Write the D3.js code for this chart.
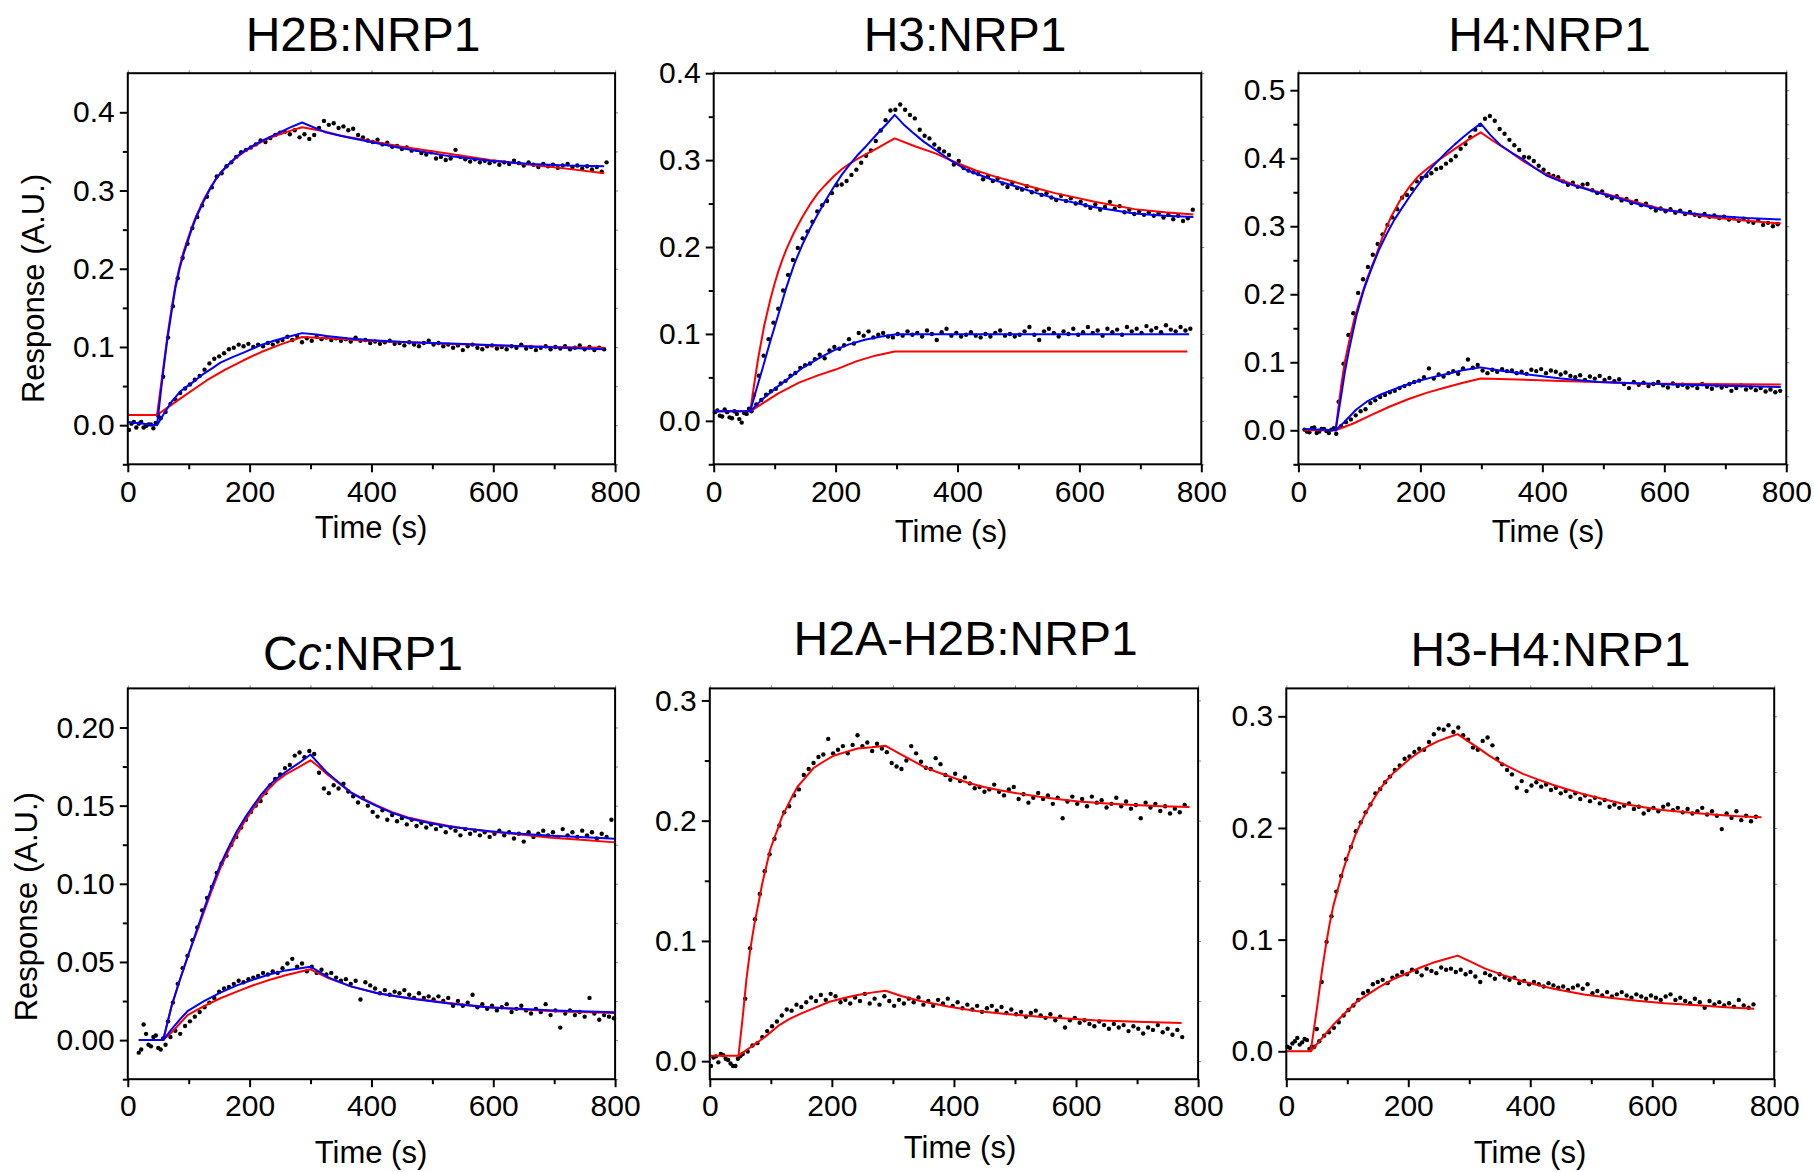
<!DOCTYPE html>
<html>
<head>
<meta charset="utf-8">
<script src="https://cdn.jsdelivr.net/npm/d3@7"></script>
<style>
  body { margin: 0; background: #fff; }
  svg { display: block; }
  text { font-family: Arial, "Liberation Sans", sans-serif; fill: #000; }
</style>
</head>
<body>
<svg width="1814" height="1172"></svg>
<script>
// Sensorgrams, one reading every 8 s. Each series: first time + responses.
const step = 8

// H2B:NRP1
const h2bHiStart = 2
const h2bHi = [-0.006,0.004,0.002,-0.003,0.001,-0.004,0.012,0.062,0.112,0.152,
  0.188,0.214,0.232,0.252,0.266,0.281,0.292,0.304,0.318,0.322,
  0.331,0.336,0.343,0.349,0.352,0.355,0.359,0.364,0.362,0.367,
  0.371,0.374,0.375,0.372,0.377,0.368,0.372,0.366,0.371,0.380,
  0.389,0.384,0.386,0.380,0.382,0.377,0.379,0.371,0.368,0.364,
  0.362,0.365,0.359,0.361,0.356,0.357,0.353,0.355,0.351,0.352,
  0.348,0.346,0.349,0.341,0.343,0.339,0.341,0.352,0.343,0.340,
  0.337,0.340,0.336,0.338,0.335,0.337,0.333,0.336,0.334,0.338,
  0.335,0.332,0.336,0.333,0.330,0.334,0.331,0.333,0.329,0.332,
  0.334,0.330,0.332,0.328,0.331,0.327,0.330,0.324,0.336]
const h2bLoStart = 6
const h2bLo = [0.002,-0.003,0.004,-0.001,0.001,0.003,0.009,0.017,0.027,0.033,
  0.041,0.047,0.052,0.058,0.063,0.071,0.079,0.085,0.088,0.092,
  0.097,0.099,0.103,0.101,0.104,0.100,0.103,0.101,0.105,0.103,
  0.107,0.109,0.113,0.109,0.114,0.106,0.111,0.108,0.113,0.110,
  0.112,0.109,0.111,0.108,0.110,0.107,0.112,0.108,0.109,0.105,
  0.107,0.104,0.106,0.108,0.104,0.105,0.102,0.106,0.103,0.101,
  0.105,0.108,0.103,0.105,0.101,0.103,0.099,0.102,0.096,0.101,
  0.103,0.099,0.097,0.101,0.102,0.098,0.100,0.097,0.101,0.099,
  0.103,0.098,0.100,0.096,0.099,0.101,0.097,0.100,0.098,0.101,
  0.097,0.099,0.102,0.097,0.100,0.096,0.099,0.097]
const h2bHiBlue = [[0,0.004],[48,0.000],[58,0.068],[65,0.110],[72,0.146],[78,0.175],[85,0.200],[92,0.220],[98,0.234],[105,0.251],[112,0.265],[125,0.287],[135,0.302],[145,0.315],[155,0.325],[165,0.333],[178,0.343],[192,0.351],[205,0.357],[219,0.363],[232,0.368],[246,0.373],[265,0.380],[286,0.387],[326,0.374],[360,0.368],[393,0.363],[450,0.354],[527,0.344],[594,0.338],[661,0.334],[720,0.332],[782,0.331]]
const h2bHiRed = [[0,0.013],[48,0.013],[58,0.072],[65,0.114],[72,0.150],[78,0.178],[85,0.203],[92,0.223],[98,0.237],[105,0.253],[112,0.267],[125,0.289],[135,0.303],[145,0.315],[155,0.325],[165,0.333],[178,0.342],[192,0.350],[205,0.356],[219,0.362],[232,0.367],[246,0.371],[265,0.376],[286,0.381],[320,0.376],[350,0.370],[393,0.364],[450,0.356],[527,0.347],[594,0.339],[661,0.333],[720,0.328],[782,0.322]]
const h2bLoBlue = [[48,0.000],[58,0.013],[72,0.030],[86,0.043],[98,0.050],[112,0.058],[125,0.066],[139,0.073],[152,0.080],[172,0.087],[192,0.0935],[219,0.1026],[240,0.108],[259,0.112],[286,0.1177],[310,0.116],[326,0.114],[360,0.111],[393,0.109],[460,0.106],[540,0.104],[594,0.1026],[680,0.100],[782,0.097]]
const h2bLoRed = [[48,0.013],[86,0.034],[130,0.0575],[160,0.071],[190,0.083],[219,0.0935],[250,0.103],[286,0.1127],[330,0.111],[393,0.108],[460,0.106],[527,0.104],[600,0.102],[700,0.100],[782,0.099]]

// H3:NRP1
const h3HiStart = 2
const h3Hi = [0.010,0.006,0.013,0.004,0.011,0.002,0.009,0.014,0.030,0.052,
  0.075,0.094,0.113,0.129,0.150,0.168,0.185,0.199,0.210,0.218,
  0.229,0.241,0.248,0.253,0.262,0.271,0.272,0.276,0.283,0.289,
  0.297,0.305,0.311,0.322,0.334,0.346,0.357,0.358,0.364,0.358,
  0.352,0.348,0.335,0.328,0.325,0.318,0.313,0.310,0.306,0.295,
  0.299,0.291,0.288,0.286,0.284,0.278,0.281,0.276,0.279,0.273,
  0.269,0.274,0.268,0.266,0.270,0.263,0.266,0.260,0.262,0.257,
  0.254,0.259,0.253,0.256,0.250,0.252,0.248,0.245,0.249,0.243,
  0.246,0.252,0.244,0.247,0.240,0.243,0.238,0.241,0.237,0.240,
  0.236,0.239,0.234,0.237,0.232,0.236,0.230,0.233,0.243]
const h3LoStart = 6
const h3Lo = [0.012,0.005,0.010,0.003,0.008,-0.002,0.008,0.011,0.019,0.024,
  0.030,0.034,0.037,0.043,0.046,0.052,0.055,0.061,0.064,0.066,
  0.071,0.076,0.072,0.081,0.085,0.083,0.087,0.094,0.089,0.101,
  0.098,0.103,0.096,0.099,0.101,0.097,0.096,0.100,0.098,0.103,
  0.099,0.101,0.097,0.104,0.100,0.093,0.102,0.106,0.098,0.101,
  0.097,0.099,0.102,0.098,0.096,0.100,0.097,0.101,0.104,0.098,
  0.100,0.097,0.099,0.103,0.108,0.099,0.093,0.103,0.106,0.101,
  0.097,0.103,0.100,0.106,0.099,0.102,0.108,0.101,0.104,0.098,
  0.106,0.102,0.105,0.099,0.108,0.103,0.106,0.101,0.109,0.104,
  0.107,0.102,0.110,0.105,0.103,0.108,0.104,0.106]
const h3HiBlue = [[0,0.011],[60,0.011],[70,0.036],[80,0.060],[93,0.092],[106,0.122],[119,0.153],[132,0.180],[145,0.202],[158,0.221],[171,0.238],[184,0.254],[197,0.269],[210,0.283],[222,0.294],[235,0.305],[250,0.316],[268,0.330],[283,0.341],[297,0.352],[313,0.340],[326,0.332],[345,0.321],[365,0.3115],[390,0.299],[417,0.288],[455,0.278],[495,0.270],[530,0.262],[560,0.256],[625,0.2457],[690,0.2387],[740,0.236],[787,0.2346]]
const h3HiRed = [[0,0.011],[60,0.011],[67,0.045],[73,0.072],[83,0.110],[93,0.140],[100,0.158],[106,0.172],[113,0.186],[119,0.197],[126,0.208],[132,0.217],[145,0.234],[158,0.249],[171,0.262],[184,0.272],[197,0.2815],[210,0.2895],[222,0.2955],[235,0.301],[250,0.3068],[268,0.3136],[283,0.3195],[297,0.325],[330,0.316],[365,0.3074],[398,0.297],[430,0.288],[462,0.281],[495,0.2745],[528,0.268],[560,0.262],[625,0.252],[690,0.2436],[740,0.240],[787,0.2374]]
const h3LoBlue = [[60,0.011],[80,0.025],[106,0.040],[125,0.050],[145,0.0605],[170,0.071],[197,0.081],[222,0.088],[248,0.0934],[275,0.097],[300,0.0996],[780,0.0996]]
const h3LoRed = [[60,0.011],[106,0.0317],[140,0.044],[171,0.0523],[200,0.059],[235,0.0687],[265,0.075],[297,0.0798],[777,0.0798]]

// H4:NRP1
const h4HiStart = 10
const h4Hi = [0.001,-0.003,0.004,-0.002,0.002,-0.004,0.003,0.042,0.098,0.140,
  0.172,0.202,0.222,0.240,0.258,0.274,0.288,0.302,0.313,0.325,
  0.342,0.346,0.355,0.366,0.371,0.374,0.378,0.384,0.386,0.392,
  0.397,0.403,0.414,0.421,0.431,0.442,0.449,0.458,0.462,0.455,
  0.443,0.436,0.427,0.419,0.412,0.402,0.401,0.396,0.389,0.383,
  0.377,0.374,0.372,0.366,0.361,0.364,0.358,0.361,0.362,0.353,
  0.349,0.351,0.345,0.341,0.344,0.338,0.340,0.334,0.337,0.331,
  0.333,0.328,0.323,0.326,0.322,0.325,0.320,0.323,0.318,0.321,
  0.317,0.315,0.318,0.314,0.316,0.312,0.314,0.310,0.312,0.308,
  0.311,0.307,0.305,0.309,0.302,0.305,0.300,0.303]
const h4LoStart = 14
const h4Lo = [-0.002,0.003,-0.004,0.002,-0.001,0.001,-0.005,0.006,0.012,0.016,
  0.022,0.028,0.031,0.040,0.044,0.049,0.052,0.056,0.058,0.062,
  0.065,0.068,0.071,0.073,0.078,0.091,0.076,0.082,0.079,0.084,
  0.087,0.083,0.091,0.104,0.092,0.096,0.088,0.084,0.089,0.086,
  0.090,0.087,0.088,0.084,0.086,0.083,0.089,0.087,0.090,0.084,
  0.088,0.086,0.082,0.085,0.080,0.078,0.081,0.074,0.079,0.076,
  0.080,0.074,0.077,0.072,0.075,0.068,0.062,0.071,0.067,0.070,
  0.065,0.068,0.071,0.066,0.063,0.069,0.065,0.067,0.063,0.066,
  0.062,0.068,0.064,0.061,0.066,0.063,0.065,0.058,0.062,0.066,
  0.060,0.063,0.059,0.062,0.057,0.060,0.056,0.058]
const h4HiBlue = [[10,0.002],[61,0.000],[70,0.050],[76,0.085],[83,0.118],[95,0.168],[107,0.206],[120,0.238],[132,0.265],[145,0.289],[157,0.309],[170,0.327],[182,0.343],[194,0.358],[207,0.374],[219,0.387],[232,0.399],[244,0.410],[256,0.420],[269,0.430],[284,0.441],[299,0.451],[315,0.434],[331,0.4195],[350,0.408],[368,0.3985],[387,0.386],[406,0.375],[430,0.366],[455,0.359],[485,0.351],[517,0.343],[555,0.333],[592,0.325],[635,0.320],[679,0.3155],[735,0.312],[791,0.310]]
const h4HiRed = [[10,0.000],[61,0.000],[70,0.065],[76,0.100],[83,0.130],[92,0.165],[101,0.191],[113,0.224],[126,0.254],[138,0.284],[151,0.312],[166,0.337],[182,0.358],[197,0.374],[213,0.386],[228,0.396],[244,0.406],[260,0.416],[275,0.425],[288,0.432],[299,0.438],[320,0.425],[343,0.4117],[370,0.395],[399,0.380],[427,0.369],[455,0.360],[485,0.352],[517,0.3444],[555,0.335],[592,0.326],[635,0.319],[679,0.313],[735,0.308],[791,0.304]]
const h4LoBlue = [[61,0.000],[75,0.012],[95,0.0305],[112,0.042],[132,0.0515],[150,0.058],[170,0.0647],[195,0.072],[219,0.0778],[245,0.083],[269,0.0883],[299,0.0925],[330,0.088],[368,0.083],[430,0.076],[493,0.071],[555,0.069],[617,0.0673],[700,0.0655],[791,0.0636]]
const h4LoRed = [[61,0.000],[90,0.010],[120,0.0226],[150,0.035],[182,0.0463],[210,0.055],[244,0.0636],[270,0.070],[299,0.0762],[360,0.0745],[430,0.0726],[490,0.071],[555,0.0689],[650,0.0680],[791,0.0673]]

// Cc:NRP1
const ccHiStart = 18
const ccHi = [-0.008,0.010,-0.003,0.002,-0.005,0.001,0.012,0.024,0.036,0.046,
  0.054,0.064,0.072,0.083,0.091,0.098,0.107,0.113,0.118,0.125,
  0.130,0.136,0.141,0.146,0.150,0.153,0.158,0.163,0.167,0.170,
  0.174,0.176,0.182,0.184,0.181,0.185,0.183,0.171,0.161,0.158,
  0.163,0.161,0.164,0.159,0.156,0.152,0.155,0.150,0.146,0.143,
  0.147,0.141,0.144,0.140,0.142,0.138,0.141,0.137,0.139,0.136,
  0.138,0.135,0.137,0.133,0.136,0.134,0.131,0.135,0.132,0.134,
  0.131,0.133,0.130,0.132,0.134,0.131,0.133,0.129,0.132,0.127,
  0.133,0.130,0.132,0.134,0.131,0.133,0.130,0.135,0.131,0.133,
  0.130,0.134,0.131,0.133,0.129,0.132,0.130,0.141]
const ccLoStart = 22
const ccLo = [-0.006,0.004,-0.004,0.003,-0.006,-0.003,0.002,0.006,0.004,0.009,
  0.012,0.015,0.018,0.021,0.024,0.027,0.031,0.033,0.034,0.036,
  0.038,0.037,0.039,0.040,0.041,0.043,0.042,0.044,0.043,0.046,
  0.049,0.052,0.047,0.049,0.044,0.047,0.043,0.045,0.042,0.043,
  0.040,0.038,0.039,0.036,0.038,0.026,0.037,0.035,0.033,0.030,
  0.032,0.029,0.031,0.030,0.032,0.029,0.027,0.030,0.027,0.028,
  0.026,0.028,0.025,0.027,0.022,0.025,0.022,0.024,0.029,0.021,
  0.023,0.020,0.022,0.019,0.021,0.023,0.018,0.020,0.022,0.019,
  0.017,0.020,0.018,0.023,0.016,0.019,0.008,0.017,0.019,0.016,
  0.018,0.015,0.027,0.017,0.013,0.016,0.015,0.014]
const ccHiBlue = [[18,0.000],[58,0.000],[72,0.022],[85,0.038],[98,0.053],[112,0.069],[125,0.0837],[138,0.098],[152,0.1122],[165,0.123],[179,0.1336],[192,0.142],[206,0.150],[219,0.157],[232,0.163],[245,0.1675],[259,0.1715],[280,0.177],[300,0.1827],[313,0.177],[326,0.1715],[346,0.165],[366,0.1585],[386,0.154],[407,0.150],[433,0.1455],[460,0.1419],[493,0.139],[527,0.1367],[560,0.135],[594,0.1336],[645,0.132],[695,0.1307],[750,0.1297],[799,0.1288]]
const ccHiRed = [[18,0.000],[58,0.000],[72,0.022],[85,0.038],[98,0.053],[112,0.068],[125,0.082],[138,0.096],[152,0.110],[165,0.121],[179,0.131],[192,0.140],[206,0.148],[219,0.155],[232,0.161],[245,0.166],[259,0.170],[280,0.1745],[300,0.179],[313,0.175],[326,0.1705],[346,0.1645],[366,0.1585],[386,0.1545],[407,0.1505],[433,0.146],[460,0.1425],[493,0.1395],[527,0.137],[560,0.135],[594,0.1335],[645,0.1315],[695,0.1295],[750,0.128],[799,0.1265]]
const ccLoBlue = [[58,0.000],[72,0.007],[85,0.013],[98,0.0185],[125,0.025],[152,0.0304],[179,0.035],[206,0.0387],[232,0.042],[259,0.0446],[300,0.047],[330,0.040],[366,0.0344],[410,0.030],[460,0.0268],[527,0.0235],[594,0.0209],[700,0.019],[799,0.0178]]
const ccLoRed = [[58,0.000],[72,0.005],[85,0.0105],[98,0.016],[125,0.0218],[152,0.0268],[179,0.031],[206,0.0351],[232,0.0385],[259,0.0415],[300,0.0453],[330,0.0395],[366,0.0344],[410,0.030],[460,0.027],[527,0.0238],[594,0.021],[700,0.0185],[799,0.0173]]

// H2A-H2B:NRP1
const h2ah2bHiStart = 2
const h2ah2bHi = [-0.004,0.004,0.006,0.002,-0.002,-0.004,0.004,0.052,0.094,0.118,
  0.139,0.158,0.172,0.185,0.196,0.207,0.212,0.221,0.226,0.238,
  0.243,0.248,0.253,0.255,0.268,0.256,0.259,0.262,0.256,0.263,
  0.271,0.262,0.265,0.258,0.264,0.260,0.257,0.248,0.245,0.243,
  0.250,0.262,0.256,0.249,0.244,0.243,0.252,0.247,0.238,0.234,
  0.239,0.233,0.236,0.231,0.227,0.228,0.224,0.226,0.230,0.224,
  0.221,0.226,0.228,0.218,0.222,0.215,0.219,0.223,0.218,0.221,
  0.214,0.219,0.202,0.216,0.220,0.214,0.218,0.212,0.220,0.215,
  0.217,0.211,0.214,0.219,0.212,0.216,0.210,0.213,0.202,0.215,
  0.211,0.214,0.208,0.212,0.206,0.210,0.207,0.213]
const h2ah2bLoStart = 6
const h2ah2bLo = [0.003,-0.001,0.005,0.001,-0.004,0.002,0.006,0.008,0.013,0.015,
  0.020,0.025,0.029,0.033,0.038,0.043,0.042,0.047,0.045,0.049,
  0.053,0.050,0.055,0.051,0.056,0.054,0.049,0.051,0.048,0.053,
  0.050,0.056,0.048,0.052,0.047,0.054,0.050,0.046,0.051,0.048,
  0.052,0.049,0.053,0.047,0.050,0.046,0.051,0.048,0.052,0.046,
  0.049,0.044,0.047,0.043,0.046,0.041,0.044,0.046,0.042,0.045,
  0.040,0.043,0.039,0.041,0.037,0.040,0.042,0.038,0.036,0.039,
  0.034,0.037,0.028,0.034,0.036,0.032,0.034,0.031,0.029,0.033,
  0.030,0.027,0.031,0.028,0.030,0.025,0.029,0.027,0.023,0.028,
  0.026,0.030,0.024,0.027,0.022,0.026,0.020]
const h2ah2bHiRed = [[0,0.0046],[47,0.0046],[54,0.037],[60,0.068],[66,0.092],[73,0.114],[80,0.132],[86,0.148],[93,0.163],[99,0.176],[106,0.186],[112,0.194],[118,0.203],[125,0.210],[134,0.219],[144,0.2284],[157,0.236],[170,0.2438],[186,0.249],[203,0.254],[222,0.257],[242,0.260],[265,0.261],[288,0.2623],[310,0.256],[332,0.250],[350,0.245],[371,0.2407],[397,0.236],[423,0.2315],[449,0.228],[475,0.2253],[507,0.2225],[540,0.2198],[572,0.2178],[604,0.216],[650,0.2143],[695,0.213],[740,0.212],[786,0.2114]]
const h2ah2bLoRed = [[47,0.0046],[73,0.0139],[90,0.020],[112,0.0293],[130,0.035],[151,0.040],[175,0.045],[196,0.0494],[220,0.0525],[242,0.055],[265,0.057],[288,0.0586],[315,0.054],[345,0.050],[390,0.0455],[436,0.0417],[490,0.039],[540,0.037],[585,0.0355],[630,0.034],[700,0.0328],[773,0.0318]]

// H3-H4:NRP1
const h3h4HiStart = 2
const h3h4Hi = [0.004,0.007,0.012,0.008,0.010,0.004,0.020,0.062,0.098,0.121,
  0.143,0.157,0.172,0.183,0.197,0.205,0.214,0.221,0.231,0.235,
  0.241,0.246,0.252,0.256,0.262,0.264,0.268,0.271,0.270,0.277,
  0.284,0.289,0.288,0.292,0.286,0.290,0.283,0.279,0.272,0.270,
  0.278,0.281,0.274,0.262,0.257,0.252,0.248,0.236,0.242,0.233,
  0.238,0.241,0.237,0.239,0.234,0.236,0.231,0.233,0.228,0.231,
  0.226,0.229,0.224,0.227,0.222,0.225,0.219,0.221,0.218,0.220,
  0.222,0.217,0.219,0.213,0.216,0.218,0.215,0.219,0.221,0.216,
  0.218,0.214,0.217,0.213,0.215,0.218,0.212,0.215,0.211,0.199,
  0.213,0.209,0.215,0.207,0.211,0.206,0.210]
const h3h4LoStart = 6
const h3h4Lo = [0.003,0.009,0.006,0.011,0.002,0.004,0.009,0.014,0.017,0.021,
  0.026,0.032,0.037,0.041,0.046,0.052,0.054,0.060,0.062,0.064,
  0.061,0.066,0.068,0.071,0.069,0.073,0.071,0.068,0.074,0.072,
  0.070,0.075,0.073,0.074,0.071,0.073,0.069,0.071,0.067,0.062,
  0.070,0.068,0.065,0.069,0.066,0.064,0.066,0.061,0.063,0.060,
  0.062,0.060,0.058,0.061,0.059,0.057,0.058,0.055,0.057,0.059,
  0.056,0.060,0.052,0.054,0.050,0.053,0.049,0.051,0.053,0.050,
  0.048,0.051,0.049,0.047,0.050,0.048,0.046,0.049,0.051,0.046,
  0.048,0.045,0.043,0.047,0.044,0.039,0.045,0.042,0.044,0.041,
  0.043,0.040,0.046,0.041,0.039,0.042]
const h3h4HiRed = [[0,0.000],[40,0.000],[50,0.0375],[59,0.074],[65,0.095],[71,0.114],[77,0.130],[84,0.144],[93,0.162],[102,0.177],[114,0.195],[127,0.210],[140,0.223],[152,0.2336],[165,0.243],[177,0.250],[190,0.256],[202,0.2618],[218,0.268],[233,0.2734],[250,0.278],[265,0.281],[281,0.284],[297,0.278],[314,0.272],[332,0.265],[351,0.2585],[370,0.2533],[388,0.2485],[413,0.2433],[438,0.2385],[463,0.2342],[488,0.2302],[519,0.226],[550,0.222],[581,0.219],[612,0.2163],[655,0.214],[699,0.212],[740,0.2106],[779,0.2096]]
const h3h4LoRed = [[40,0.000],[78,0.0243],[96,0.034],[115,0.0442],[134,0.051],[152,0.0575],[177,0.065],[202,0.0708],[220,0.075],[239,0.079],[260,0.0825],[281,0.0857],[303,0.080],[326,0.074],[357,0.068],[388,0.0625],[438,0.056],[488,0.0508],[530,0.048],[575,0.0452],[620,0.043],[668,0.0415],[720,0.0395],[767,0.0382]]

// Axis ticks
const xTicks = [0, 200, 400, 600, 800]
const xMinor = [100, 300, 500, 700]

const panels = [
  { title: [["H2B:NRP1", false]], yDomain: [-0.05, 0.45], yTicks: [0, 0.1, 0.2, 0.3, 0.4], yMinor: [-0.05, 0.05, 0.15, 0.25, 0.35], fmt: ".1f",
    dots: [[h2bHiStart, h2bHi], [h2bLoStart, h2bLo]], red: [h2bHiRed, h2bLoRed], blue: [h2bHiBlue, h2bLoBlue], yLabel: true },
  { title: [["H3:NRP1", false]], yDomain: [-0.05, 0.4], yTicks: [0, 0.1, 0.2, 0.3, 0.4], yMinor: [-0.05, 0.05, 0.15, 0.25, 0.35], fmt: ".1f",
    dots: [[h3HiStart, h3Hi], [h3LoStart, h3Lo]], red: [h3HiRed, h3LoRed], blue: [h3HiBlue, h3LoBlue] },
  { title: [["H4:NRP1", false]], yDomain: [-0.05, 0.525], yTicks: [0, 0.1, 0.2, 0.3, 0.4, 0.5], yMinor: [-0.05, 0.05, 0.15, 0.25, 0.35, 0.45], fmt: ".1f",
    dots: [[h4HiStart, h4Hi], [h4LoStart, h4Lo]], red: [h4HiRed, h4LoRed], blue: [h4HiBlue, h4LoBlue] },
  { title: [["C", false], ["c", true], [":NRP1", false]], yDomain: [-0.025, 0.225], yTicks: [0, 0.05, 0.1, 0.15, 0.2], yMinor: [-0.025, 0.025, 0.075, 0.125, 0.175], fmt: ".2f",
    dots: [[ccHiStart, ccHi], [ccLoStart, ccLo]], red: [ccHiRed, ccLoRed], blue: [ccHiBlue, ccLoBlue], yLabel: true },
  { title: [["H2A-H2B:NRP1", false]], yDomain: [-0.015, 0.31], yTicks: [0, 0.1, 0.2, 0.3], yMinor: [0.05, 0.15, 0.25], fmt: ".1f",
    dots: [[h2ah2bHiStart, h2ah2bHi], [h2ah2bLoStart, h2ah2bLo]], red: [h2ah2bHiRed, h2ah2bLoRed], blue: [] },
  { title: [["H3-H4:NRP1", false]], yDomain: [-0.025, 0.325], yTicks: [0, 0.1, 0.2, 0.3], yMinor: [0.05, 0.15, 0.25], fmt: ".1f",
    dots: [[h3h4HiStart, h3h4Hi], [h3h4LoStart, h3h4Lo]], red: [h3h4HiRed, h3h4LoRed], blue: [] },
]

// Where each panel sits on the page
const layout = [
  { x0: 127.8, x1: 615.1, y0: 73.2, y1: 464.3, titleX: 363, titleY: 51, labX: 371, labY: 538, yLabX: 44, yLabY: 288.5 },
  { x0: 713.7, x1: 1201.3, y0: 73.2, y1: 464.3, titleX: 965, titleY: 51, labX: 951, labY: 542 },
  { x0: 1298.4, x1: 1786.3, y0: 73.2, y1: 464.3, titleX: 1549.5, titleY: 51, labX: 1548, labY: 542 },
  { x0: 127.8, x1: 615.1, y0: 688.4, y1: 1079.2, titleX: 363, titleY: 670, labX: 371, labY: 1163, yLabX: 37, yLabY: 906.7 },
  { x0: 709.8, x1: 1198.1, y0: 688.4, y1: 1079.2, titleX: 965.6, titleY: 655, labX: 960, labY: 1158 },
  { x0: 1286.3, x1: 1774.2, y0: 688.4, y1: 1079.2, titleX: 1550.5, titleY: 666, labX: 1530, labY: 1163 },
]

const svg = d3.select("svg")

function styleAxis(sel, width) {
    sel.select(".domain").remove()
    sel.selectAll("line").attr("stroke", "#000").attr("stroke-width", width)
    sel.selectAll("text").attr("font-size", 30).attr("fill", "#000")
        .attr("font-family", "Arial, 'Liberation Sans', sans-serif")
}

function drawPanel(p, box) {
    const x = d3.scaleLinear().domain([0, 800]).range([box.x0, box.x1])
    const y = d3.scaleLinear().domain(p.yDomain).range([box.y1, box.y0])
    const g = svg.append("g")

    // faint ticks on top and right
    g.append("g").attr("transform", `translate(0,${box.y0})`)
        .call(d3.axisTop(x).tickValues(xTicks.concat(xMinor)).tickSize(3).tickFormat(""))
        .call(s => { s.select(".domain").remove(); s.selectAll("line").attr("stroke", "#888").attr("stroke-width", 1) })
    g.append("g").attr("transform", `translate(${box.x1},0)`)
        .call(d3.axisRight(y).tickValues(p.yTicks.concat(p.yMinor)).tickSize(3).tickFormat(""))
        .call(s => { s.select(".domain").remove(); s.selectAll("line").attr("stroke", "#888").attr("stroke-width", 1) })

    // bottom axis
    g.append("g").attr("transform", `translate(0,${box.y1})`)
        .call(d3.axisBottom(x).tickValues(xTicks).tickSizeInner(8).tickSizeOuter(0).tickPadding(8).tickFormat(d3.format("d")))
        .call(s => styleAxis(s, 2))
    g.append("g").attr("transform", `translate(0,${box.y1})`)
        .call(d3.axisBottom(x).tickValues(xMinor).tickSize(5).tickFormat(""))
        .call(s => styleAxis(s, 2))

    // left axis
    g.append("g").attr("transform", `translate(${box.x0},0)`)
        .call(d3.axisLeft(y).tickValues(p.yTicks).tickSizeInner(8).tickSizeOuter(0).tickPadding(5).tickFormat(d3.format(p.fmt)))
        .call(s => styleAxis(s, 2))
    g.append("g").attr("transform", `translate(${box.x0},0)`)
        .call(d3.axisLeft(y).tickValues(p.yMinor).tickSize(5).tickFormat(""))
        .call(s => styleAxis(s, 2))

    // data points
    p.dots.forEach(([start, vals]) => {
        g.append("g").selectAll("circle")
            .data(vals)
            .join("circle")
            .attr("cx", (d, i) => x(start + i * step))
            .attr("cy", d => y(d))
            .attr("r", 2.2)
            .attr("fill", "#000")
    })

    // fits
    const line = d3.line().x(d => x(d[0])).y(d => y(d[1]))
    p.red.forEach(series => {
        g.append("path").attr("d", line(series)).attr("fill", "none")
            .attr("stroke", "#ff0000").attr("stroke-width", 2).attr("stroke-linejoin", "round")
    })
    p.blue.forEach(series => {
        g.append("path").attr("d", line(series)).attr("fill", "none")
            .attr("stroke", "#0000ff").attr("stroke-width", 2).attr("stroke-linejoin", "round")
    })

    // frame
    g.append("rect")
        .attr("x", box.x0).attr("y", box.y0)
        .attr("width", box.x1 - box.x0).attr("height", box.y1 - box.y0)
        .attr("fill", "none").attr("stroke", "#000").attr("stroke-width", 2)

    // title
    const title = g.append("text")
        .attr("x", box.titleX).attr("y", box.titleY)
        .attr("text-anchor", "middle").attr("font-size", 48)
    p.title.forEach(([txt, italic]) => {
        title.append("tspan").attr("font-style", italic ? "italic" : "normal").text(txt)
    })

    // axis labels
    g.append("text")
        .attr("x", box.labX).attr("y", box.labY)
        .attr("text-anchor", "middle").attr("font-size", 31)
        .text("Time (s)")
    if (p.yLabel) {
        g.append("text")
            .attr("transform", `translate(${box.yLabX},${box.yLabY}) rotate(-90)`)
            .attr("text-anchor", "middle").attr("font-size", 31)
            .text("Response (A.U.)")
    }
}

panels.forEach((p, i) => drawPanel(p, layout[i]))
</script>
</body>
</html>
